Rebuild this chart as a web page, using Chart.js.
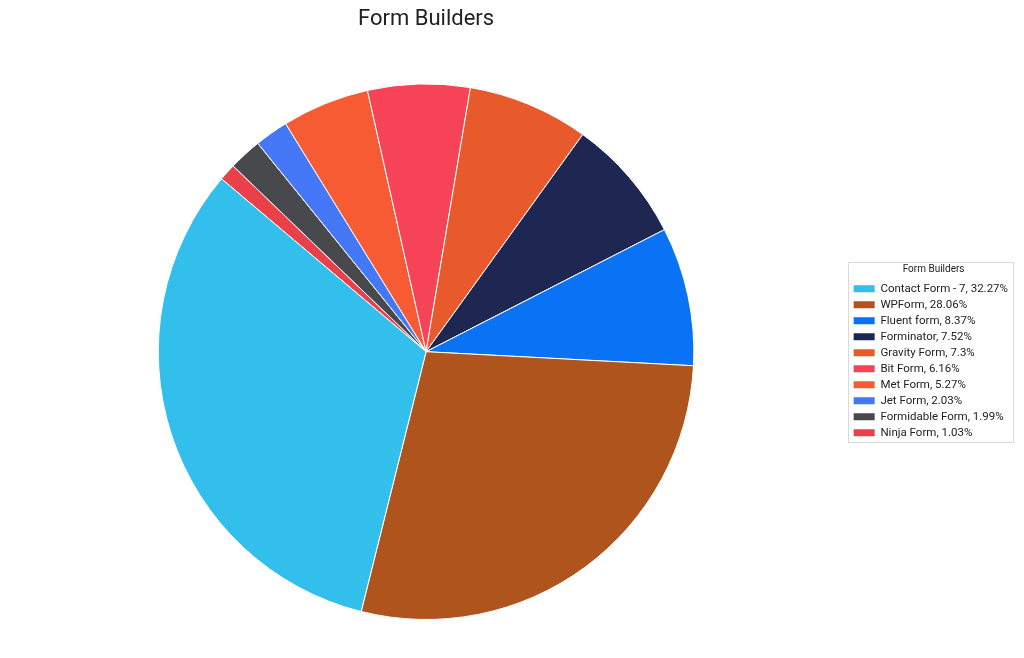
<!DOCTYPE html>
<html>
<head>
<meta charset="utf-8">
<script src="https://cdn.jsdelivr.net/npm/chart.js@4.4.0/dist/chart.umd.min.js"></script>
<style>
  html, body { margin: 0; padding: 0; background: #fff; }
  #wrap { width: 1024px; height: 658px; }
</style>
</head>
<body>
<div id="wrap"><canvas id="formChart"></canvas></div>
<script>
const labels = [
  "Contact Form - 7", "WPForm", "Fluent form", "Forminator", "Gravity Form",
  "Bit Form", "Met Form", "Jet Form", "Formidable Form", "Ninja Form"
];
const shares = [32.27, 28.06, 8.37, 7.52, 7.3, 6.16, 5.27, 2.03, 1.99, 1.03];
const colors = [
  "#33bfeb", "#b0541e", "#0a73f5", "#1e2752", "#e85a2b",
  "#f64357", "#f65b33", "#4578f7", "#48494c", "#ea404a"
];

// the reference runs counter-clockwise, chart.js draws clockwise -> reverse the slices, reverse the legend back
const drawLabels = labels.slice().reverse();
const drawShares = shares.slice().reverse();
const drawColors = colors.slice().reverse();

// thin grey frame around the legend items + legend title
const legendBox = {
  id: "legendBox",
  afterDraw(chart) {
    const hb = chart.legend.legendHitBoxes;
    if (!hb || !hb.length) return;
    let l = Infinity, r = -Infinity, t = Infinity, b = -Infinity;
    hb.forEach(h => {
      l = Math.min(l, h.left);
      r = Math.max(r, h.left + h.width);
      t = Math.min(t, h.top);
      b = Math.max(b, h.top + h.height);
    });
    const ctx = chart.ctx;
    ctx.save();
    ctx.strokeStyle = "#d9d9d9";
    ctx.lineWidth = 1;
    ctx.strokeRect(Math.round(l - 6) + 0.5, Math.round(t - 21) + 0.5, Math.round(r - l + 11), Math.round(b - t + 24));
    ctx.restore();
  }
};

new Chart(document.getElementById("formChart"), {
  type: "pie",
  data: {
    labels: drawLabels,
    datasets: [{
      data: drawShares,
      backgroundColor: drawColors,
      borderColor: "#ffffff",
      borderWidth: 1
    }]
  },
  options: {
    responsive: true,
    maintainAspectRatio: false,
    animation: false,
    rotation: -49.8,
    layout: { padding: { top: 0, bottom: 38, left: 3, right: 6 } },
    plugins: {
      title: {
        display: true,
        fullSize: false,
        text: "Form Builders",
        color: "#222",
        font: { family: "Roboto", size: 22, weight: "normal" },
        padding: { top: 6, bottom: 51 }
      },
      legend: {
        position: "right",
        fullSize: false,
        reverse: true,
        title: {
          display: true,
          text: "Form Builders",
          color: "#222",
          font: { family: "Roboto", size: 10 },
          padding: { top: 4, bottom: 2 }
        },
        labels: {
          boxWidth: 21,
          boxHeight: 7,
          padding: 4.5,
          color: "#222",
          font: { family: "Roboto", size: 11.5 },
          generateLabels(chart) {
            const ds = chart.data.datasets[0];
            return chart.data.labels.map((l, i) => ({
              text: l + ", " + ds.data[i] + "%",
              fillStyle: ds.backgroundColor[i],
              strokeStyle: ds.backgroundColor[i],
              lineWidth: 0,
              fontColor: "#222",
              index: i
            }));
          }
        }
      },
      tooltip: { enabled: true }
    }
  },
  plugins: [legendBox]
});
</script>
</body>
</html>
